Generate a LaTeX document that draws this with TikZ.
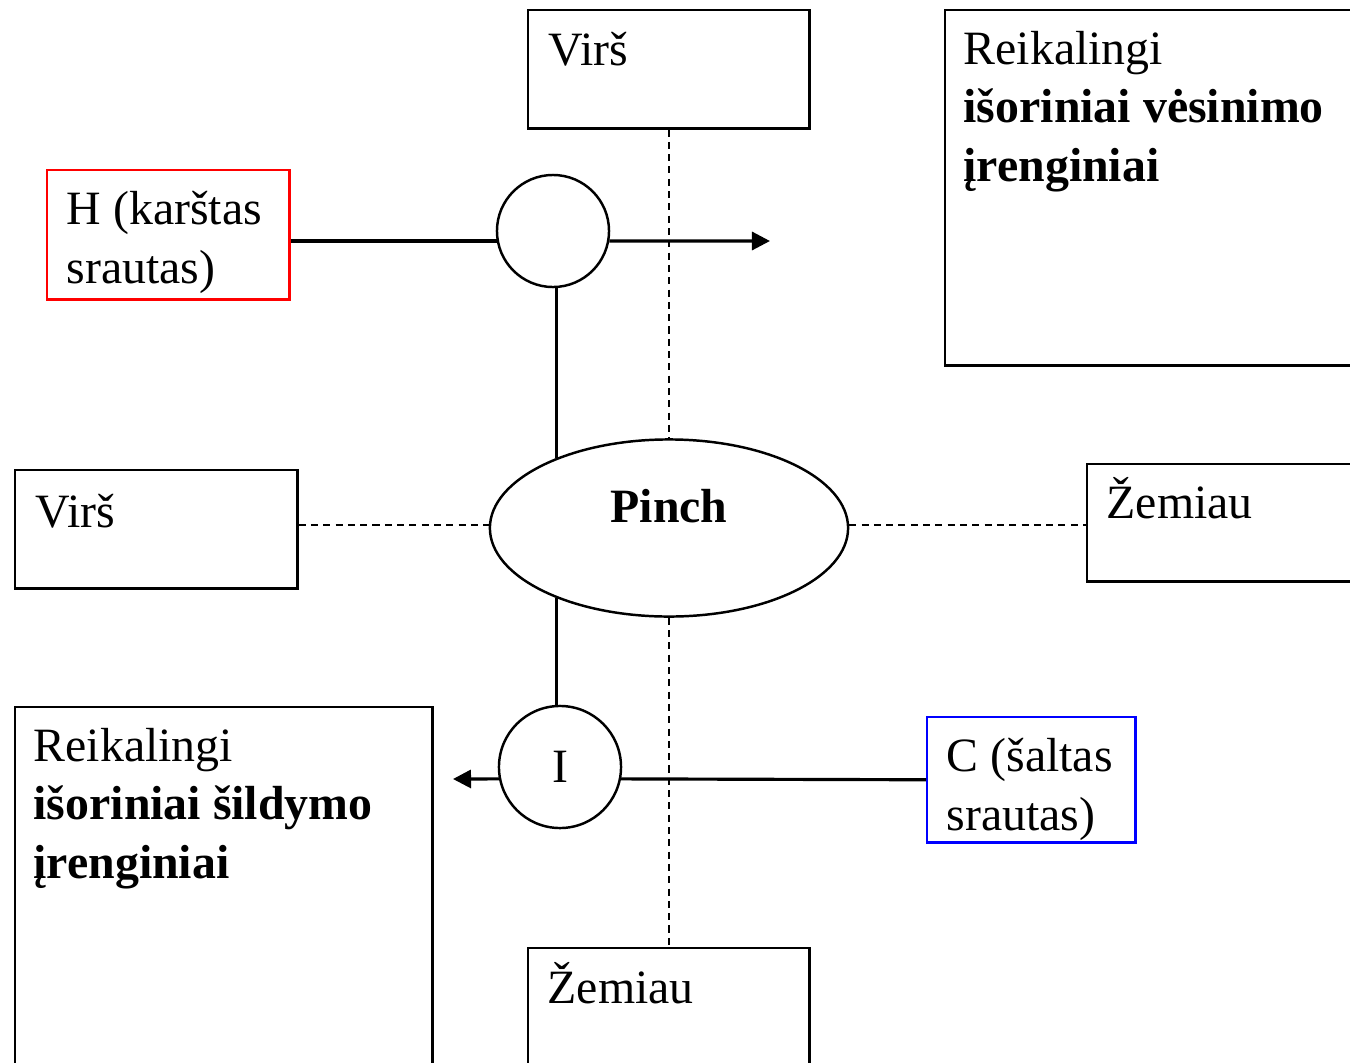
\documentclass[tikz,border=0pt]{standalone}
\usepackage{fontspec}
\setmainfont{Liberation Serif}
\usetikzlibrary{arrows.meta,positioning,calc,shapes.geometric}
\newcommand{\diagfont}{\fontsize{13.6pt}{16.5pt}\selectfont}
\tikzset{
  boxnd/.style={draw, line width=0.7pt, anchor=north west, inner sep=0pt},
  txt/.style={font=\diagfont, anchor=base west, inner sep=0pt, align=left},
  ringnd/.style={draw, circle, line width=0.7pt, inner sep=0pt, font=\diagfont},
  flowln/.style={line width=0.9pt},
  flowarr/.style={-{Triangle[length=1.8mm,width=1.8mm]}, line width=0.9pt},
  divln/.style={dash pattern=on 2pt off 1.5pt, line width=0.6pt},
}
\definecolor{hotcolor}{RGB}{255,0,0}
\definecolor{coldcolor}{RGB}{0,0,255}

\begin{document}
\begin{tikzpicture}[x=0.01cm, y=-0.01cm]
    \useasboundingbox (0,0) rectangle (1350,1063);
    % boxes
    \node[boxnd, minimum width=2.81cm, minimum height=1.18cm] (vtop) at (527,9) {};
    \node[boxnd, minimum width=4.2cm, minimum height=3.55cm] (cool) at (944,9) {};
    \node[boxnd, hotcolor, minimum width=2.42cm, minimum height=1.29cm] (hot) at (46,169) {};
    \node[boxnd, minimum width=2.82cm, minimum height=1.18cm] (vleft) at (14,469) {};
    \node[boxnd, minimum width=2.8cm, minimum height=1.17cm] (zright) at (1086,463) {};
    \node[boxnd, minimum width=4.17cm, minimum height=3.7cm] (heat) at (14,706) {};
    \node[boxnd, coldcolor, minimum width=2.08cm, minimum height=1.25cm] (cold) at (926,716) {};
    \node[boxnd, minimum width=2.81cm, minimum height=1.3cm] (zbot) at (527,947) {};
    % pinch and exchangers
    \node[draw, ellipse, line width=0.7pt, minimum width=3.58cm, minimum height=1.77cm] (pinch) at (669,528) {};
    \node[ringnd, minimum size=1.12cm] (hc) at (553,231) {};
    \node[ringnd, minimum size=1.22cm] (ic) at (560,767) {I};
    % texts (multi-line nodes sit on their last baseline)
    \node[txt] (vtoptxt) at (548,65) {Virš};
    \node[txt] (cooltxt) at (963,181) {Reikalingi\\\textbf{išoriniai vėsinimo}\\\textbf{įrenginiai}};
    \node[txt] (hottxt) at (66,283) {H (karštas\\srautas)};
    \node[txt, font=\diagfont\bfseries, anchor=base] (pinchtxt) at (669,522) {Pinch};
    \node[txt] (vlefttxt) at (35,527) {Virš};
    \node[txt] (zrighttxt) at (1106,518) {Žemiau};
    \node[txt] (heattxt) at (33,878) {Reikalingi\\\textbf{išoriniai šildymo}\\\textbf{įrenginiai}};
    \node[txt] (coldtxt) at (946,830) {C (šaltas\\srautas)};
    \node[txt] (zbottxt) at (547,1003) {Žemiau};
    % streams
    \coordinate (hend) at (770,241);
    \coordinate (cend) at (453,779);
    \draw[flowln] (hot.east |- hc.190) -- (hc.190);
    \draw[flowarr] (hc.-10) -- (hend);
    \draw[flowln] (pinch.148) -- (pinch.148 |- hc.south);
    \draw[flowln] (pinch.212) -- (pinch.212 |- ic.north);
    \draw[flowln] (cold.west) -- (ic.-11);
    \draw[flowarr] (ic.191) -- (cend);
    % pinch division
    \draw[divln] (vtop.south -| pinch.north) -- (pinch.north);
    \draw[divln] (pinch.south) -- (pinch.south |- zbot.north);
    \draw[divln] (vleft.east |- pinch.179) -- (pinch.179);
    \draw[divln] (pinch.1) -- (pinch.1 -| zright.west);
\end{tikzpicture}
\end{document}
